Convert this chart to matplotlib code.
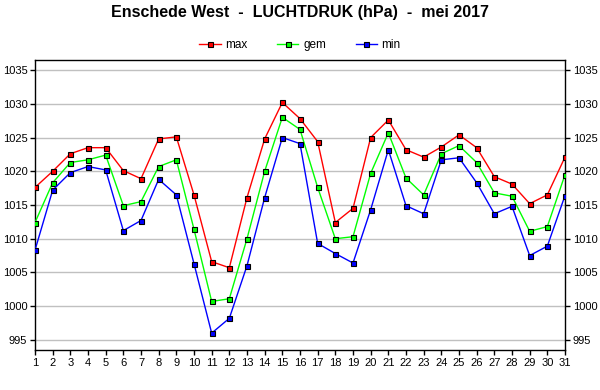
import matplotlib
matplotlib.use("Agg")
matplotlib.rcParams["font.family"] = ["Liberation Sans", "DejaVu Sans"]
import matplotlib.pyplot as plt

days = list(range(1, 32))
p_max = [1017.6, 1020.0, 1022.6, 1023.5, 1023.5, 1020.1, 1018.9, 1024.8, 1025.1, 1016.5,
         1006.6, 1005.7, 1016.1, 1024.8, 1030.2, 1027.8, 1024.4, 1012.4, 1014.5, 1025.0,
         1027.6, 1023.2, 1022.1, 1023.6, 1025.4, 1023.5, 1019.2, 1018.1, 1015.2, 1016.5, 1022.1]
p_gem = [1012.4, 1018.3, 1021.3, 1021.7, 1022.4, 1014.9, 1015.5, 1020.7, 1021.7, 1011.4,
         1000.7, 1001.1, 1010.0, 1020.0, 1028.0, 1026.2, 1017.6, 1010.0, 1010.3, 1019.7,
         1025.7, 1019.0, 1016.5, 1022.6, 1023.8, 1021.3, 1016.8, 1016.3, 1011.1, 1011.8, 1019.5]
p_min = [1008.3, 1017.2, 1019.8, 1020.7, 1020.2, 1011.2, 1012.7, 1018.8, 1016.5, 1006.3,
         996.0, 998.2, 1006.0, 1016.1, 1025.0, 1024.1, 1009.3, 1007.8, 1006.4, 1014.3,
         1023.2, 1014.9, 1013.7, 1021.7, 1022.0, 1018.3, 1013.7, 1014.8, 1007.5, 1008.9, 1016.4]
yticks = [995, 1000, 1005, 1010, 1015, 1020, 1025, 1030, 1035]

fig = plt.figure(figsize=(6, 3.9), dpi=100)
ax = fig.add_axes([35/600, 1 - 350/390, 530/600, 290/390])

series = [("max", p_max, "#ff0000"), ("gem", p_gem, "#00ff00"), ("min", p_min, "#0000ff")]
for name, vals, col in series:
    ax.plot(days, vals, color=col, linewidth=1.0, marker="s", markersize=3.6,
            markerfacecolor=col, markeredgecolor="black", markeredgewidth=0.8,
            label=name, zorder=3)

ax.set_xlim(1, 31)
ax.set_ylim(993.5, 1036.5)
ax.set_xticks(days)
ax.set_yticks(yticks)
ax.grid(True, axis="y", color="#c0c0c0", linewidth=1.0)
ax.set_axisbelow(True)
ax.tick_params(axis="both", labelsize=8, length=3.5, width=1, direction="out", pad=2)
ax.tick_params(axis="y", right=True, labelright=True)
for sp in ax.spines.values():
    sp.set_linewidth(1.0)

fig.text(0.5, 1 - 12/390, "Enschede West  -  LUCHTDRUK (hPa)  -  mei 2017",
         ha="center", va="center", fontsize=11.5, fontweight="bold")
fig.legend(loc="center", bbox_to_anchor=(0.5, 1 - 45/390), ncol=3, frameon=False,
           fontsize=8.5, handlelength=1.8, handletextpad=0.4, columnspacing=2.5)

plt.savefig("out.png", dpi=100)
